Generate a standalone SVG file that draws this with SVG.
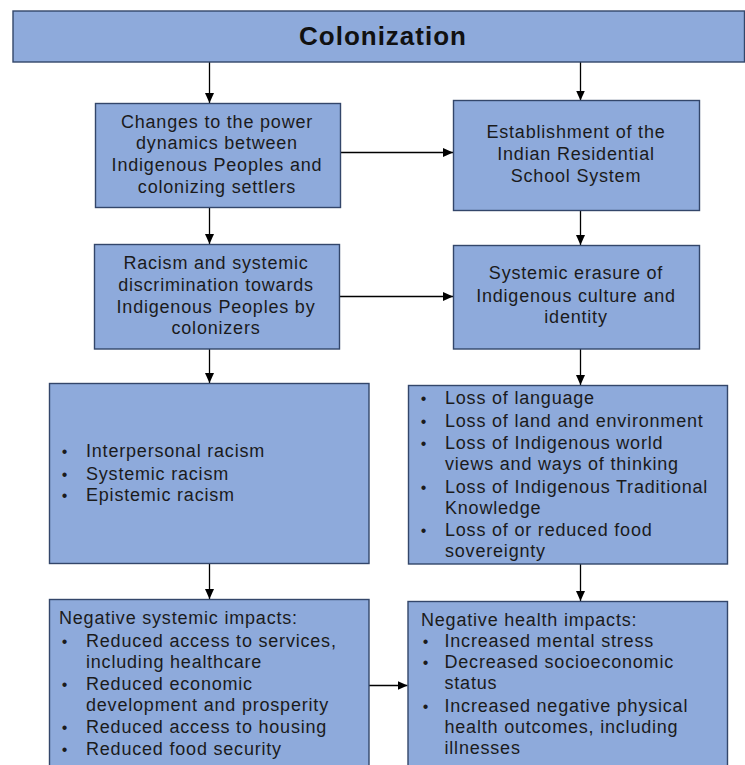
<svg xmlns="http://www.w3.org/2000/svg" width="745" height="765" viewBox="0 0 745 765">
  <style>
    .box { fill: #8eaadb; stroke: #33466a; stroke-width: 1.4; }
    .t { font-family: "Liberation Sans", Arial, sans-serif; font-size: 18px; letter-spacing: 0.8px; fill: #1b1b1b; }
    .c { text-anchor: middle; }
    .b { text-anchor: middle; font-size: 16px; }
    .title { font-family: "Liberation Sans", Arial, sans-serif; font-size: 26px; font-weight: bold; letter-spacing: 1px; fill: #111; text-anchor: middle; }
    .link { stroke: #000; stroke-width: 1.3; fill: none; marker-end: url(#arrow); }
  </style>
  <defs>
    <marker id="arrow" markerUnits="userSpaceOnUse" markerWidth="11" markerHeight="10" refX="10" refY="4.5" orient="auto">
      <path d="M0,0 L10,4.5 L0,9 Z" fill="#000"/>
    </marker>
  </defs>

  <rect width="745" height="765" fill="#fff"/>

  <!-- connectors -->
  <g id="connectors">
    <line class="link" x1="209.5" y1="62" x2="209.5" y2="103"/>
    <line class="link" x1="580.5" y1="62" x2="580.5" y2="100.5"/>
    <line class="link" x1="341" y1="152.5" x2="453" y2="152.5"/>
    <line class="link" x1="209.5" y1="207.5" x2="209.5" y2="244"/>
    <line class="link" x1="580.5" y1="210.5" x2="580.5" y2="245"/>
    <line class="link" x1="339.5" y1="296.5" x2="453" y2="296.5"/>
    <line class="link" x1="209.5" y1="349" x2="209.5" y2="383"/>
    <line class="link" x1="580.5" y1="349" x2="580.5" y2="385"/>
    <line class="link" x1="209.5" y1="563.5" x2="209.5" y2="599"/>
    <line class="link" x1="580.5" y1="564" x2="580.5" y2="601"/>
    <line class="link" x1="369" y1="685.5" x2="407.5" y2="685.5"/>
  </g>

  <!-- root -->
  <g id="colonization">
    <rect class="box" x="13" y="11" width="731.5" height="51"/>
    <text class="title" x="383" y="45">Colonization</text>
  </g>

  <g id="power-dynamics">
    <rect class="box" x="95.5" y="103.5" width="245" height="104"/>
    <text class="t c" x="217" y="127.5">Changes to the power</text>
    <text class="t c" x="217" y="149.3">dynamics between</text>
    <text class="t c" x="217" y="171">Indigenous Peoples and</text>
    <text class="t c" x="217" y="192.5">colonizing settlers</text>
  </g>

  <g id="residential-schools">
    <rect class="box" x="453.5" y="100.5" width="246" height="110"/>
    <text class="t c" x="576" y="137.7">Establishment of the</text>
    <text class="t c" x="576" y="159.7">Indian Residential</text>
    <text class="t c" x="576" y="181.5">School System</text>
  </g>

  <g id="racism">
    <rect class="box" x="94.5" y="244.5" width="245" height="104.5"/>
    <text class="t c" x="216" y="269.3">Racism and systemic</text>
    <text class="t c" x="216" y="291">discrimination towards</text>
    <text class="t c" x="216" y="312.5">Indigenous Peoples by</text>
    <text class="t c" x="216" y="334">colonizers</text>
  </g>

  <g id="cultural-erasure">
    <rect class="box" x="453.5" y="245.5" width="246" height="103.5"/>
    <text class="t c" x="576" y="279.3">Systemic erasure of</text>
    <text class="t c" x="576" y="301.5">Indigenous culture and</text>
    <text class="t c" x="576" y="323.3">identity</text>
  </g>

  <g id="racism-types">
    <rect class="box" x="49.5" y="383.5" width="319.5" height="180"/>
    <text class="t b" x="65" y="457.3">•</text>
    <text class="t" x="86" y="457.3">Interpersonal racism</text>
    <text class="t b" x="65" y="479.5">•</text>
    <text class="t" x="86" y="479.5">Systemic racism</text>
    <text class="t b" x="65" y="501">•</text>
    <text class="t" x="86" y="501">Epistemic racism</text>
  </g>

  <g id="losses">
    <rect class="box" x="408.5" y="385.5" width="319" height="178.5"/>
    <text class="t b" x="424" y="404.3">•</text>
    <text class="t" x="445" y="404.3">Loss of language</text>
    <text class="t b" x="424" y="426.5">•</text>
    <text class="t" x="445" y="426.5">Loss of land and environment</text>
    <text class="t b" x="424" y="448.5">•</text>
    <text class="t" x="445" y="448.5">Loss of Indigenous world</text>
    <text class="t" x="445" y="470">views and ways of thinking</text>
    <text class="t b" x="424" y="492.5">•</text>
    <text class="t" x="445" y="492.5">Loss of Indigenous Traditional</text>
    <text class="t" x="445" y="514">Knowledge</text>
    <text class="t b" x="424" y="536">•</text>
    <text class="t" x="445" y="536">Loss of or reduced food</text>
    <text class="t" x="445" y="557">sovereignty</text>
  </g>

  <g id="systemic-impacts">
    <rect class="box" x="49.5" y="599.5" width="319.5" height="200"/>
    <text class="t" x="59" y="624">Negative systemic impacts:</text>
    <text class="t b" x="65" y="647.3">•</text>
    <text class="t" x="86" y="647.3">Reduced access to services,</text>
    <text class="t" x="86" y="668">including healthcare</text>
    <text class="t b" x="65" y="690">•</text>
    <text class="t" x="86" y="690">Reduced economic</text>
    <text class="t" x="86" y="711">development and prosperity</text>
    <text class="t b" x="65" y="733.3">•</text>
    <text class="t" x="86" y="733.3">Reduced access to housing</text>
    <text class="t b" x="65" y="755">•</text>
    <text class="t" x="86" y="755">Reduced food security</text>
  </g>

  <g id="health-impacts">
    <rect class="box" x="408" y="601.5" width="319.5" height="200"/>
    <text class="t" x="421" y="625.7">Negative health impacts:</text>
    <text class="t b" x="426" y="646.7">•</text>
    <text class="t" x="444.5" y="646.7">Increased mental stress</text>
    <text class="t b" x="426" y="667.5">•</text>
    <text class="t" x="444.5" y="667.5">Decreased socioeconomic</text>
    <text class="t" x="444.5" y="689.3">status</text>
    <text class="t b" x="426" y="711.7">•</text>
    <text class="t" x="444.5" y="711.7">Increased negative physical</text>
    <text class="t" x="444.5" y="732.5">health outcomes, including</text>
    <text class="t" x="444.5" y="754.3">illnesses</text>
  </g>
</svg>
